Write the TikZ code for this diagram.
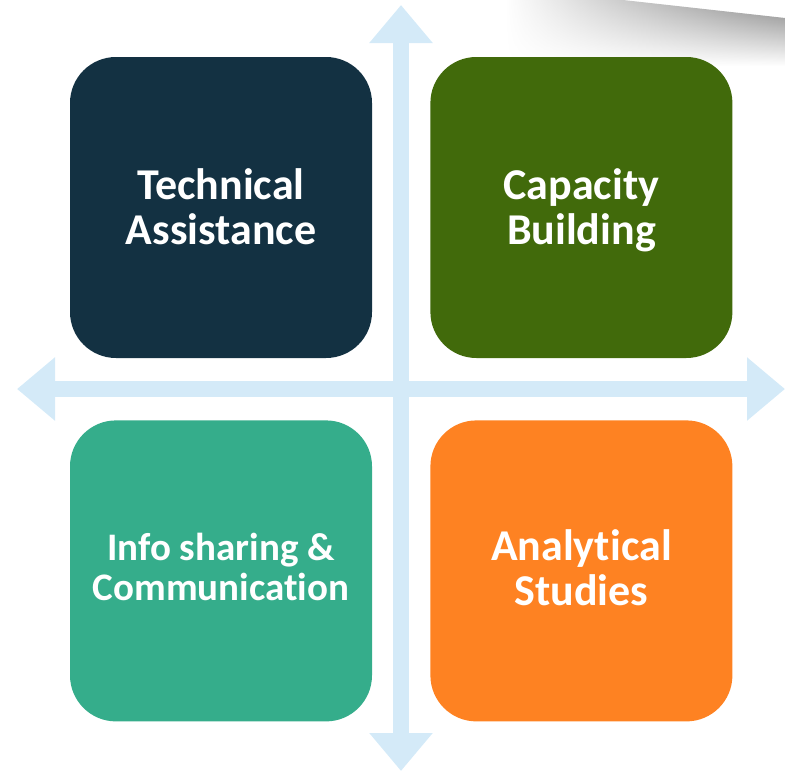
\documentclass[tikz,border=0pt]{standalone}
\usepackage{fontspec}
\newfontfamily\boxfont{Carlito}[Ligatures=NoCommon]
\usetikzlibrary{positioning, arrows.meta, fadings}
\definecolor{navybox}{HTML}{133142}
\definecolor{greenbox}{HTML}{416A0B}
\definecolor{tealbox}{HTML}{35AD8B}
\definecolor{orangebox}{HTML}{FE8222}
\definecolor{axisblue}{HTML}{D4EAF8}
\tikzfading[name=fadeleft, left color=transparent!100, right color=transparent!0]

\begin{document}
\begin{tikzpicture}[x=1pt,y=-1pt]
\tikzset{block/.style={rectangle,rounded corners=46pt,minimum width=302pt,minimum height=301pt,inner sep=0pt,align=center,text=white,font=\boxfont\bfseries\fontsize{44}{45}\selectfont}}
\tikzset{axis/.style={axisblue,line width=16pt,{Triangle[length=38pt,width=61pt]}-{Triangle[length=38pt,width=61pt]}}}
\useasboundingbox (0,0) rectangle (785,771);

% shadow in the corner
\shade[top color=black!48,bottom color=white,path fading=fadeleft] (505,0) -- (623,0) -- (785,18) -- (785,66) -- (505,66) -- cycle;

  \coordinate (west) at (17,389);
  \coordinate (east) at (785,389);
  \coordinate (north) at (401,5);
  \coordinate (south) at (401,771);
  \draw[axis] (west) -- (east);
  \draw[axis] (north) -- (south);

  \node [block, fill=navybox] (technical) at (221,207.5) {\rule{0pt}{42pt}Technical\\Assistance\strut};
  \node [block, fill=greenbox, right=58pt of technical] (capacity) {\rule{0pt}{42pt}Capacity\\Building\strut};
  \node [block, fill=tealbox, below=62pt of technical, font=\boxfont\bfseries\fontsize{39}{40}\selectfont] (info) {\rule{0pt}{32pt}Info sharing \&\\Communication\strut};
  \node [block, fill=orangebox, below=62pt of capacity] (analytical) {\rule{0pt}{38pt}Analytical\\Studies\strut};

\end{tikzpicture}
\end{document}
